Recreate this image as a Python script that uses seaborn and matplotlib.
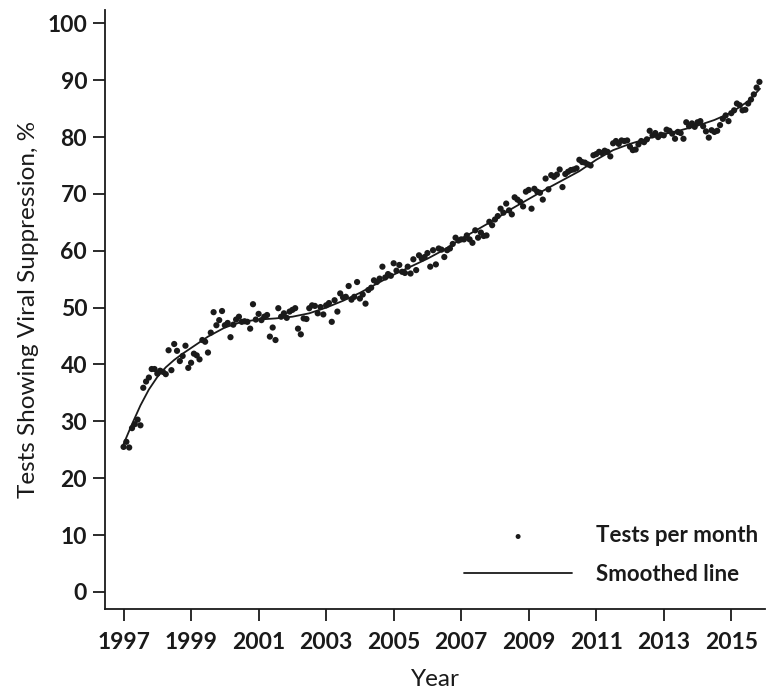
import numpy as np
import pandas as pd
import matplotlib
matplotlib.use("Agg")
import matplotlib.pyplot as plt
import seaborn as sns

# monthly values, Jan 1997 - Nov 2015
v1997 = [25.5, 26.4, 25.4, 28.8, 29.5, 30.3, 29.3, 35.9, 37.0, 37.7, 39.2, 39.2]
v1998 = [38.4, 38.9, 38.7, 38.3, 42.5, 39.0, 43.6, 42.4, 40.6, 41.5, 43.3, 39.4]
v1999 = [40.3, 41.9, 41.6, 40.9, 44.3, 44.0, 42.1, 45.6, 49.2, 46.9, 47.8, 49.4]
v2000 = [46.9, 47.3, 44.8, 47.0, 47.9, 48.4, 47.5, 47.6, 47.5, 46.3, 50.6, 47.9]
v2001 = [48.9, 47.8, 48.4, 48.7, 44.9, 46.5, 44.3, 49.9, 48.4, 49.0, 48.2, 49.3]
v2002 = [49.6, 49.9, 46.3, 45.3, 48.1, 48.0, 49.9, 50.4, 50.3, 49.0, 50.1, 48.8]
v2003 = [50.4, 50.8, 47.5, 51.3, 49.3, 52.5, 51.8, 51.9, 53.8, 51.4, 51.9, 54.5]
v2004 = [51.6, 52.3, 50.7, 53.1, 53.5, 54.8, 54.5, 55.1, 57.2, 55.3, 55.9, 55.6]
v2005 = [57.8, 56.5, 57.5, 56.3, 56.1, 57.2, 56.0, 58.5, 56.6, 59.2, 58.6, 58.9]
v2006 = [59.6, 57.2, 60.1, 57.6, 60.4, 60.2, 58.9, 60.1, 60.4, 61.2, 62.3, 61.8]
v2007 = [62.0, 62.0, 62.7, 62.0, 61.4, 63.6, 62.3, 63.2, 62.6, 62.7, 65.1, 64.5]
v2008 = [65.5, 66.1, 67.4, 66.7, 68.3, 67.1, 66.4, 69.4, 69.0, 68.6, 67.8, 70.4]
v2009 = [70.7, 67.4, 70.9, 70.4, 70.2, 69.0, 72.7, 70.8, 73.3, 73.0, 73.4, 74.3]
v2010 = [71.2, 73.5, 73.9, 74.2, 74.3, 74.5, 76.0, 75.6, 75.5, 75.2, 75.0, 76.8]
v2011 = [77.0, 77.4, 77.2, 77.6, 77.4, 76.6, 78.9, 79.3, 78.8, 79.4, 79.3, 79.4]
v2012 = [78.3, 77.7, 77.8, 78.7, 79.3, 79.1, 79.6, 81.1, 80.3, 80.7, 80.0, 80.4]
v2013 = [80.3, 81.3, 81.1, 80.6, 79.7, 80.9, 80.7, 79.7, 82.6, 81.9, 82.4, 81.8]
v2014 = [82.6, 82.8, 81.9, 81.0, 79.9, 81.2, 80.9, 81.1, 82.1, 83.2, 83.8, 82.8]
v2015 = [84.2, 84.7, 85.9, 85.6, 84.7, 84.8, 85.9, 86.6, 87.5, 88.7, 89.7]

yearly = [v1997, v1998, v1999, v2000, v2001, v2002, v2003, v2004, v2005, v2006,
          v2007, v2008, v2009, v2010, v2011, v2012, v2013, v2014, v2015]

# smoothed line
smooth_year = [1997.0, 1997.25, 1997.5, 1997.75, 1998.0, 1998.25, 1998.5, 1998.75,
               1999.0, 1999.5, 2000.0, 2000.5, 2001.0, 2001.5, 2002.0, 2002.5,
               2003.0, 2003.5, 2004.0, 2004.5, 2005.0, 2005.5, 2006.0, 2006.5,
               2007.0, 2007.5, 2008.0, 2008.5, 2009.0, 2009.5, 2010.0, 2010.5,
               2011.0, 2011.5, 2012.0, 2012.5, 2013.0, 2013.5, 2014.0, 2014.5,
               2015.0, 2015.5, 2015.85]
smooth_val = [26.0, 29.5, 32.8, 35.6, 37.8, 39.5, 40.8, 41.9,
              42.9, 44.9, 46.5, 47.5, 47.9, 48.1, 48.4, 49.0,
              50.0, 51.2, 52.6, 54.2, 55.8, 57.2, 58.6, 60.2,
              62.1, 63.8, 65.5, 67.4, 69.1, 70.8, 72.4, 74.0,
              76.0, 77.7, 78.8, 79.7, 80.5, 81.2, 82.0, 83.0,
              84.3, 86.3, 88.5]

year_ticks = list(range(1997, 2016, 2))
pct_ticks = list(range(0, 101, 10))

rows = []
for i, vals in enumerate(yearly):
    for m, v in enumerate(vals):
        rows.append((1997 + i + m / 12, v))
df = pd.DataFrame(rows, columns=["year", "pct"])
df_s = pd.DataFrame({"year": smooth_year, "pct": smooth_val})

sns.set_theme(style="ticks")
plt.rcParams["font.family"] = ["Lato", "DejaVu Sans"]

fig = plt.figure(figsize=(7.72, 6.92), dpi=100)
ax = fig.add_axes([0.136, 0.12, 0.855, 0.866])

ink = "#1a1a1a"
sns.scatterplot(data=df, x="year", y="pct", ax=ax, color=ink, s=20,
                edgecolor="none", label="Tests per month", zorder=3)
sns.lineplot(data=df_s, x="year", y="pct", ax=ax, color=ink, lw=1.3,
             label="Smoothed line", zorder=2)

ax.set_xlim(1996.45, 2016.0)
ax.set_ylim(-3, 102.4)
ax.set_xticks(year_ticks)
ax.set_yticks(pct_ticks)
ax.tick_params(axis="both", direction="out", length=8.8, width=1.3, color=ink,
               labelsize=16.5, labelcolor=ink, pad=4)
for lab in ax.get_xticklabels() + ax.get_yticklabels():
    lab.set_fontweight("bold")
ax.tick_params(axis="x", pad=7.5)

sns.despine(ax=ax)
for side in ["left", "bottom"]:
    ax.spines[side].set_linewidth(1.3)
    ax.spines[side].set_color(ink)

ax.set_xlabel("Year", fontsize=17.5, color=ink, labelpad=12)
ax.set_ylabel("Tests Showing Viral Suppression, %", fontsize=17.5, color=ink,
              labelpad=6)

leg = ax.legend(loc="lower right", bbox_to_anchor=(1.007, 0.022), frameon=False,
                handlelength=4.85, handletextpad=1.1, labelspacing=0.78,
                borderpad=0, markerscale=0.8, prop={"size": 16, "weight": "bold"})
for t in leg.get_texts():
    t.set_color(ink)

fig.savefig("out.png", dpi=100, facecolor="white")
